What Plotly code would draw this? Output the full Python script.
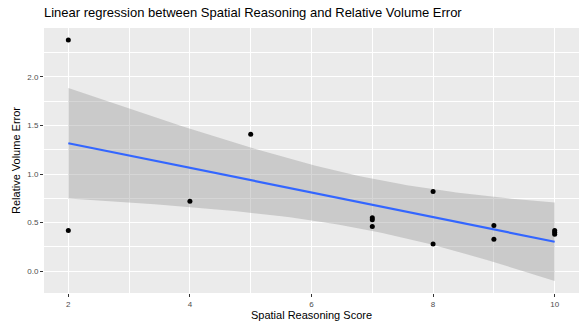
import numpy as np
import plotly.graph_objects as go

# Data
score = [2, 2, 4, 5, 7, 7, 7, 8, 8, 9, 9, 10, 10, 10]
rel_err = [2.38, 0.42, 0.72, 1.41, 0.55, 0.53, 0.46, 0.82, 0.28, 0.47, 0.33, 0.42, 0.40, 0.38]
x_ticks = [2, 4, 6, 8, 10]
y_ticks = [0.0, 0.5, 1.0, 1.5, 2.0]
y_tick_labels = ["0.0", "0.5", "1.0", "1.5", "2.0"]

x = np.array(score, dtype=float)
y = np.array(rel_err, dtype=float)
n = len(x)
slope, intercept = np.polyfit(x, y, 1)
resid = y - (intercept + slope * x)
s = np.sqrt(np.sum(resid ** 2) / (n - 2))
try:
    from scipy.stats import t as tdist
    tcrit = tdist.ppf(0.975, n - 2)
except Exception:
    tcrit = 2.178813  # df = 12
xs = np.linspace(x.min(), x.max(), 80)
fit = intercept + slope * xs
se = s * np.sqrt(1.0 / n + (xs - x.mean()) ** 2 / np.sum((x - x.mean()) ** 2))
upper = fit + tcrit * se
lower = fit - tcrit * se

ymin = min(lower.min(), y.min())
ymax = max(upper.max(), y.max())
ypad = (ymax - ymin) * 0.05
xpad = (x.max() - x.min()) * 0.05

fig = go.Figure()
fig.add_trace(go.Scatter(
    x=list(xs) + list(xs[::-1]), y=list(upper) + list(lower[::-1]),
    fill="toself", fillcolor="rgba(153,153,153,0.4)", line=dict(width=0),
    mode="lines", hoverinfo="skip", showlegend=False))
fig.add_trace(go.Scatter(
    x=score, y=rel_err, mode="markers",
    marker=dict(color="black", size=5), showlegend=False))
fig.add_trace(go.Scatter(
    x=xs, y=fit, mode="lines", line=dict(color="#3366FF", width=2.2),
    showlegend=False))

axis_common = dict(
    showline=False, zeroline=False, gridcolor="white", gridwidth=1.1,
    ticks="outside", ticklen=3, tickwidth=1, tickcolor="#333333",
    tickfont=dict(family="Liberation Sans, Arial, sans-serif", size=8, color="#4D4D4D"),
)

fig.update_layout(
    width=579, height=321,
    margin=dict(l=44, r=0, t=28, b=28),
    paper_bgcolor="white", plot_bgcolor="#EBEBEB",
    title=dict(text="Linear regression between Spatial Reasoning and Relative Volume Error",
               x=44 / 579, xanchor="left", y=1 - 17 / 321, yanchor="bottom",
               font=dict(family="Liberation Sans, Arial, sans-serif", size=13, color="black")),
    xaxis=dict(range=[x.min() - xpad, x.max() + xpad], tickvals=x_ticks,
               title=dict(text="Spatial Reasoning Score", standoff=2,
                          font=dict(family="Liberation Sans, Arial, sans-serif", size=11, color="black")),
               minor=dict(dtick=1, tick0=0, showgrid=True, gridcolor="white", gridwidth=0.5, ticks=""),
               **axis_common),
    yaxis=dict(range=[ymin - ypad, ymax + ypad], tickvals=y_ticks, ticktext=y_tick_labels,
               title=dict(text="Relative Volume Error", standoff=4,
                          font=dict(family="Liberation Sans, Arial, sans-serif", size=11, color="black")),
               minor=dict(dtick=0.25, tick0=0, showgrid=True, gridcolor="white", gridwidth=0.5, ticks=""),
               **axis_common),
    font=dict(family="Liberation Sans, Arial, sans-serif"),
)

fig.write_html("out.html")
